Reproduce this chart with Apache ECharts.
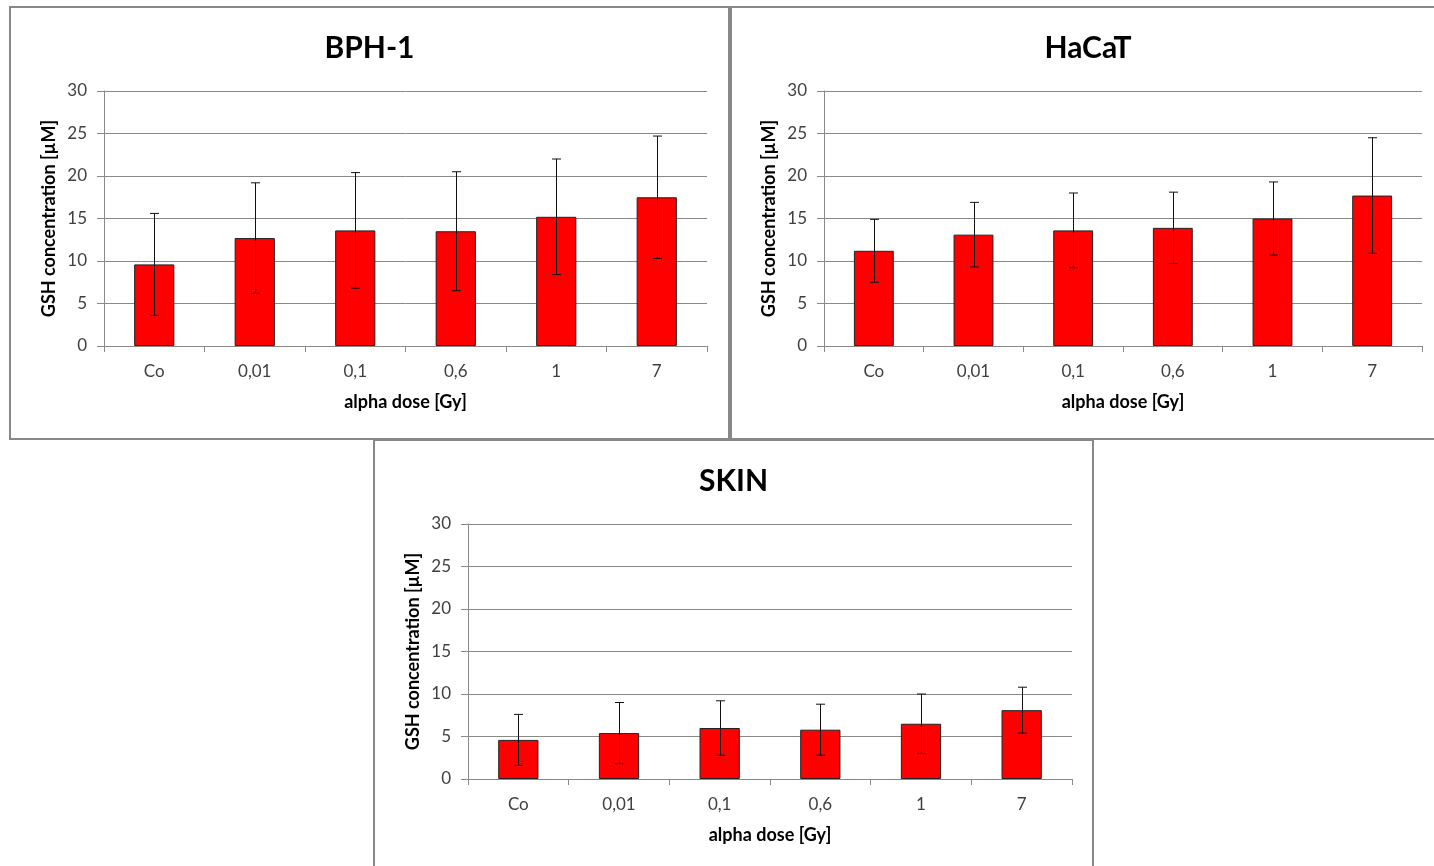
<!DOCTYPE html>
<html>
<head>
<meta charset="utf-8">
<title>GSH concentration</title>
<script src="https://cdn.jsdelivr.net/npm/echarts@6/dist/echarts.min.js"></script>
<style>
    html, body { margin: 0; padding: 0; background: #fff; }
    #main { width: 1434px; height: 866px; }
</style>
</head>
<body>
<div id="main"></div>
<script>
// 数据
var doses = ["Co", "0,01", "0,1", "0,6", "1", "7"];
var panelNames = ["BPH-1", "HaCaT", "SKIN"];
var bphMean = [9.6, 12.7, 13.6, 13.5, 15.2, 17.5];
var bphSd = [6.0, 6.5, 6.8, 7.0, 6.8, 7.2];
var hacatMean = [11.2, 13.1, 13.6, 13.9, 15.0, 17.7];
var hacatSd = [3.7, 3.8, 4.4, 4.2, 4.3, 6.8];
var skinMean = [4.6, 5.4, 6.0, 5.8, 6.5, 8.1];
var skinSd = [3.0, 3.6, 3.2, 3.0, 3.5, 2.7];
var yMin = 0, yMax = 30, yStep = 5;
var xName = "alpha dose [Gy]";
var yName = "GSH concentration [µM]";

var means = [bphMean, hacatMean, skinMean];
var sds = [bphSd, hacatSd, skinSd];

// 每个面板的位置：外框 + 绘图区
var boxes = [
    {x: 10, y: 7, w: 719, h: 432, left: 104, top: 91, width: 603, height: 255},
    {x: 731, y: 7, w: 714, h: 432, left: 824, top: 91, width: 598, height: 255},
    {x: 374, y: 440, w: 719, h: 440, left: 468, top: 524, width: 604, height: 255}
];

var gridColor = "#898989";
var font = "Lato";

// 误差线
function renderErr(params, api) {
    var x = api.value(0);
    var lo = api.coord([x, api.value(1)]);
    var hi = api.coord([x, api.value(2)]);
    var cx = Math.round(lo[0]) + 0.5;
    var w = 4.5;
    var style = {stroke: "#111", lineWidth: 1};
    return {
        type: "group",
        children: [
            {type: "line", shape: {x1: cx, y1: hi[1], x2: cx, y2: lo[1]}, style: style},
            {type: "line", shape: {x1: cx - w, y1: hi[1], x2: cx + w, y2: hi[1]}, style: style},
            {type: "line", shape: {x1: cx - w, y1: lo[1], x2: cx + w, y2: lo[1]}, style: style}
        ]
    };
}

var titles = [], grids = [], xAxes = [], yAxes = [], series = [], graphics = [];

for (var i = 0; i < 3; i++) {
    var b = boxes[i];
    graphics.push({
        type: "rect",
        shape: {x: b.x, y: b.y, width: b.w, height: b.h},
        style: {fill: "transparent", stroke: "#888", lineWidth: 2},
        z: 10
    });
    // 标题居中于外框
    titles.push({
        text: panelNames[i],
        left: b.x + b.w / 2,
        top: b.top - 58,
        padding: 0,
        textAlign: "center",
        textStyle: {fontFamily: font, fontSize: 30, fontWeight: "bold", color: "#000"}
    });
    grids.push({left: b.left, top: b.top, width: b.width, height: b.height});
    xAxes.push({
        type: "category",
        gridIndex: i,
        data: doses,
        name: xName,
        nameLocation: "middle",
        nameGap: 47,
        nameTextStyle: {fontFamily: font, fontSize: 18, fontWeight: "bold", color: "#000"},
        axisLine: {lineStyle: {color: gridColor, width: 1}},
        axisTick: {show: true, length: 6, lineStyle: {color: gridColor}},
        axisLabel: {fontFamily: font, fontSize: 17, color: "#404040", margin: 17}
    });
    yAxes.push({
        type: "value",
        gridIndex: i,
        min: yMin,
        max: yMax,
        interval: yStep,
        name: yName,
        nameLocation: "middle",
        nameGap: 46,
        nameTextStyle: {fontFamily: font, fontSize: 18, fontWeight: "bold", color: "#000"},
        axisLine: {show: true, lineStyle: {color: gridColor, width: 1}},
        axisTick: {show: true, length: 7, lineStyle: {color: gridColor}},
        axisLabel: {fontFamily: font, fontSize: 17, color: "#404040", margin: 17},
        splitLine: {lineStyle: {color: gridColor, width: 1}}
    });
    series.push({
        name: panelNames[i],
        type: "bar",
        xAxisIndex: i,
        yAxisIndex: i,
        barWidth: "40%",
        data: means[i],
        itemStyle: {color: "#ff0000", borderColor: "#222", borderWidth: 1}
    });
    var errData = [];
    for (var k = 0; k < doses.length; k++) {
        errData.push([k, means[i][k] - sds[i][k], means[i][k] + sds[i][k]]);
    }
    series.push({
        type: "custom",
        xAxisIndex: i,
        yAxisIndex: i,
        renderItem: renderErr,
        encode: {x: 0, y: [1, 2]},
        data: errData,
        z: 5
    });
}

var myChart = echarts.init(document.getElementById("main"));
myChart.setOption({
    animation: false,
    backgroundColor: "#fff",
    title: titles,
    grid: grids,
    xAxis: xAxes,
    yAxis: yAxes,
    series: series,
    graphic: graphics
});
window.addEventListener("resize", function () {
    myChart.resize();
});
</script>
</body>
</html>
